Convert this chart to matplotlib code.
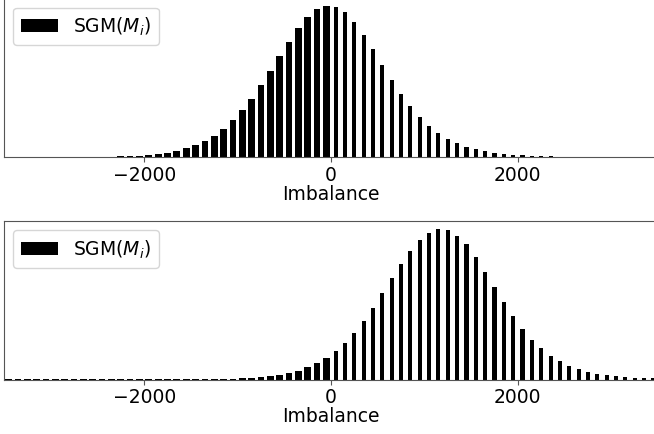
import numpy as np
import matplotlib
matplotlib.use("Agg")
import matplotlib.pyplot as plt

# bin centers (Imbalance)
centers = np.arange(-3450, 3500, 100)

# top panel: SGM(M_i) counts (relative)
top_vals = [0.4, 0.4, 0.4, 0.4, 0.4, 0.4, 0.4, 0.4, 0.4, 0.4, 0.4, 0.4,
            1, 1, 1.2, 2, 3, 4.3, 6, 9, 12, 16, 21, 28, 37, 47, 58, 72, 86,
            101, 115, 129, 140, 148, 151,
            150, 145, 135, 122, 108, 92, 77, 63, 51, 40, 31, 24, 18, 14, 10,
            8, 6, 4, 3, 2, 2, 1, 1, 1,
            0, 0, 0, 0, 0, 0, 0, 0, 0, 0, 0]

# bottom panel
bot_vals = [0.4, 0.4, 0.4, 0.4, 0.4, 0.4, 0.4, 0.4, 0.4, 0.4, 0.4, 0.4,
            0.4, 0.4, 0.4, 0.4, 0.4, 0.4, 0.4, 0.4, 0.4, 0.4, 0.4,
            0.7, 0.7, 1.7, 1.7, 2.7, 3.7, 4.7, 6.7, 8.7, 12.7, 16.7, 21.7,
            29, 37, 47, 59, 71.7, 86.7, 101.7, 115.7, 128.7, 140.7, 147.3, 151.7,
            150.7, 144.7, 135.7, 122.7, 107.7, 92.7, 77.7, 63.7, 50.7, 39.7, 31.7,
            23.7, 18.7, 13.7, 10.7, 7.7, 5.7, 4.7, 3.7, 2.7, 1.7, 1.7, 1.7]

xticks = [-2000, 0, 2000]
label = r"SGM($M_i$)"

FS = 13.5
fig = plt.figure(figsize=(6.54, 4.35), dpi=100)
W, H = 654, 435
axes_specs = [
    (4 / W, (H - 158) / H, 654 / W, 158.7 / H),
    (4 / W, (H - 380.7) / H, 654 / W, 158.7 / H),
]

widths = np.where(centers < 0, 72, 44)

for spec, vals in zip(axes_specs, [top_vals, bot_vals]):
    ax = fig.add_axes(spec)
    ax.bar(centers, vals, width=widths, color="black", label=label)
    ax.set_xlim(-3500, 3500)
    ax.set_ylim(0, max(vals) * 1.05)
    ax.set_yticks([])
    ax.set_xticks(xticks)
    for s in ax.spines.values():
        s.set_color("#555555")
    ax.tick_params(axis="x", labelsize=FS, color="#555555", pad=2)
    ax.set_xlabel("Imbalance", fontsize=FS, labelpad=0)
    ax.legend(loc="upper left", fontsize=FS, borderaxespad=0.5)

fig.savefig("out.png", dpi=100)
